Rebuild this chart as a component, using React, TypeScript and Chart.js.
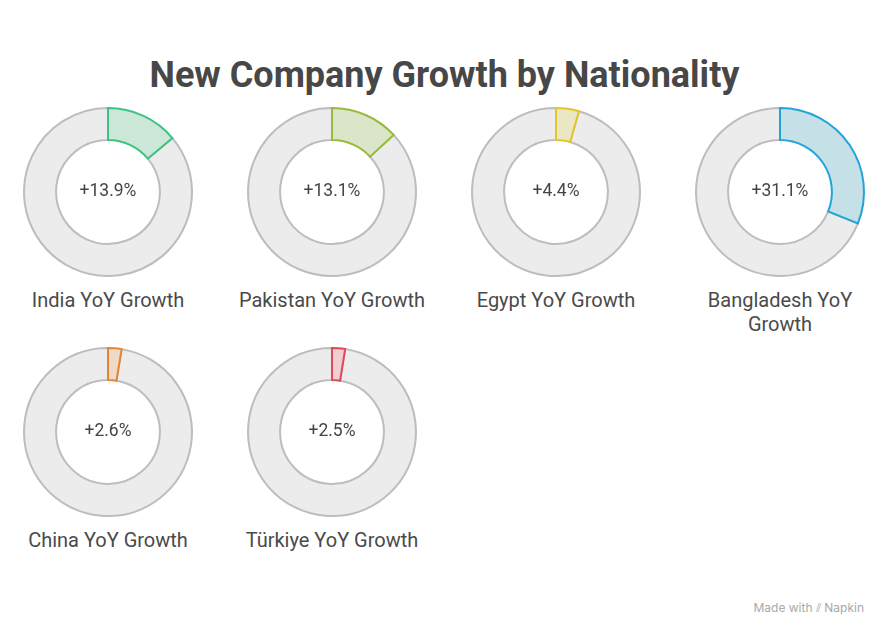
import React, { useEffect, useRef } from "react";
import { Chart, registerables } from "chart.js";

Chart.register(...registerables);

const categories = ["India", "Pakistan", "Egypt", "Bangladesh", "China", "Türkiye"];
const growthValues = [13.9, 13.1, 4.4, 31.1, 2.6, 2.5];
const centerLabels = ["+13.9%", "+13.1%", "+4.4%", "+31.1%", "+2.6%", "+2.5%"];
const chartLabels = [
  "India YoY Growth",
  "Pakistan YoY Growth",
  "Egypt YoY Growth",
  "Bangladesh YoY Growth",
  "China YoY Growth",
  "Türkiye YoY Growth",
];
const strokeColors = ["#3dc282", "#97bb3a", "#e2c527", "#22a5d6", "#e38632", "#e2485a"];
const fillColors = ["#cbe7d7", "#dbe5c7", "#ebe6c3", "#c6e0e8", "#efdac8", "#efcfd2"];

const TITLE = "New Company Growth by Nationality";
const CENTERS_X = [108, 332, 556, 780];
const CENTERS_Y = [191.5, 431.5];
const SIZE = 180;

const centerTextPlugin = {
  id: "centerText",
  afterDraw(chart: any) {
    const text = chart.options.plugins.centerText?.text;
    if (!text) return;
    const meta = chart.getDatasetMeta(0);
    const arc = meta.data[0];
    if (!arc) return;
    const { ctx } = chart;
    ctx.save();
    ctx.font = "17.5px Roboto";
    ctx.fillStyle = "#444444";
    ctx.textAlign = "center";
    ctx.textBaseline = "middle";
    ctx.fillText(text, arc.x, arc.y);
    ctx.restore();
  },
};

function Donut({ index }: { index: number }) {
  const ref = useRef<HTMLCanvasElement>(null);
  useEffect(() => {
    if (!ref.current) return;
    const v = growthValues[index];
    const chart = new Chart(ref.current, {
      type: "doughnut",
      data: {
        labels: ["Rest", categories[index]],
        datasets: [
          {
            data: [100 - v, v],
            backgroundColor: ["#ececec", fillColors[index]],
            borderColor: ["#bdbdbd", strokeColors[index]],
            borderWidth: 2,
            borderJoinStyle: "miter",
            hoverOffset: 0,
          },
        ],
      },
      options: {
        animation: false,
        responsive: false,
        maintainAspectRatio: false,
        rotation: v * 3.6,
        radius: 84,
        cutout: 55,
        layout: { padding: 0 },
        events: [],
        plugins: {
          legend: { display: false },
          tooltip: { enabled: false },
          centerText: { text: centerLabels[index] },
        } as any,
      },
      plugins: [centerTextPlugin],
    });
    return () => chart.destroy();
  }, [index]);
  return <canvas ref={ref} width={SIZE} height={SIZE} style={{ width: SIZE, height: SIZE }} />;
}

export default function App() {
  return (
    <div
      style={{
        position: "absolute",
        left: 0,
        top: 0,
        width: 889,
        height: 636,
        background: "#ffffff",
        fontFamily: "Roboto, sans-serif",
        overflow: "hidden",
      }}
    >
      <div
        style={{
          position: "absolute",
          left: 0,
          width: 889,
          top: 53,
          textAlign: "center",
          fontSize: 36,
          fontWeight: 700,
          color: "#474747",
          lineHeight: "44px",
        }}
      >
        {TITLE}
      </div>
      {categories.map((c, i) => {
        const cx = CENTERS_X[i % 4];
        const cy = CENTERS_Y[Math.floor(i / 4)];
        return (
          <React.Fragment key={c}>
            <div style={{ position: "absolute", left: cx - SIZE / 2, top: cy - SIZE / 2, width: SIZE, height: SIZE }}>
              <Donut index={i} />
            </div>
            <div
              style={{
                position: "absolute",
                left: cx - 98,
                width: 196,
                top: cy + 96.5,
                textAlign: "center",
                fontSize: 20,
                lineHeight: "24px",
                color: "#4a4a4a",
              }}
            >
              {chartLabels[i]}
            </div>
          </React.Fragment>
        );
      })}
      <div
        style={{
          position: "absolute",
          right: 25,
          top: 600,
          fontSize: 12,
          color: "#a8a8a8",
          fontFamily: "Inter, Roboto, sans-serif",
        }}
      >
        Made with ⫽ Napkin
      </div>
    </div>
  );
}
